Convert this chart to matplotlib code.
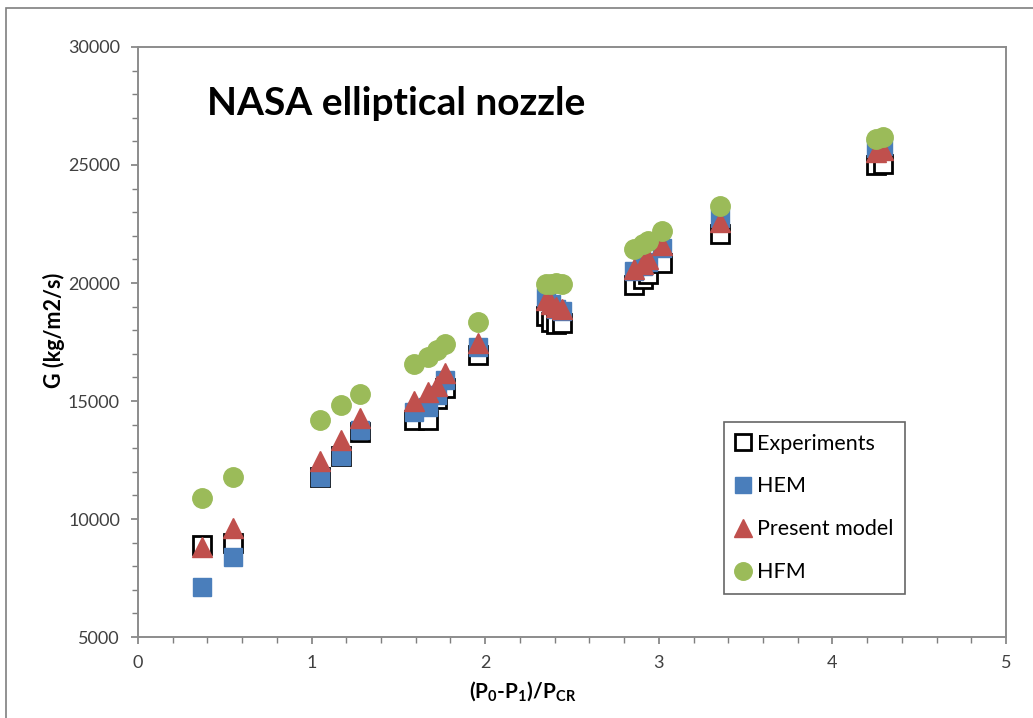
import matplotlib
matplotlib.use("Agg")
import matplotlib.pyplot as plt
from matplotlib.patches import Rectangle
from matplotlib.ticker import MultipleLocator

plt.rcParams["font.family"] = ["Lato", "DejaVu Sans"]
plt.rcParams["mathtext.fontset"] = "custom"
plt.rcParams["mathtext.rm"] = "Lato:bold"
plt.rcParams["mathtext.default"] = "rm"

# pressure ratio (P0-P1)/Pcr for each test point
ratio = [0.37, 0.55, 1.05, 1.17, 1.28,
         1.59, 1.67, 1.72, 1.77, 1.96,
         2.35, 2.38, 2.41, 2.44,
         2.86, 2.91, 2.94, 3.02,
         3.35, 4.25, 4.29]

# mass flux G (kg/m2/s)
g_exp = [8900, 8980, 11800, 12650, 13690,
         14200, 14200, 15100, 15550, 16950,
         18600, 18350, 18250, 18300,
         19900, 20150, 20400, 20850,
         22080, 25000, 25050]
g_hem = [7120, 8390, 11780, 12680, 13770,
         14550, 14750, 15250, 15900, 17290,
         19400, 19100, 18900, 18800,
         20500, 20700, 20900, 21500,
         22750, 25700, 25800]
g_present = [8800, 9600, 12450, 13350, 14280,
             15000, 15400, 15650, 16200, 17460,
             19300, 19100, 19000, 18900,
             20600, 20800, 21000, 21600,
             22600, 25550, 25650]
g_hfm = [10870, 11780, 14200, 14830, 15300,
         16550, 16850, 17150, 17400, 18330,
         19950, 19950, 20000, 19950,
         21450, 21650, 21800, 22200,
         23250, 26100, 26200]

fig = plt.figure(figsize=(10.33, 7.18), dpi=100)
fig.patches.append(Rectangle((6 / 1033, -0.1), 1.2, 1 - 8 / 718 + 0.1,
                             transform=fig.transFigure, fill=False,
                             edgecolor="#7f7f7f", linewidth=1.2))
ax = fig.add_axes([138 / 1033, 1 - 637 / 718, 868 / 1033, 590 / 718])

ax.plot(ratio, g_exp, "s", ms=13, mfc="white", mec="black", mew=2,
        label="Experiments", linestyle="none")
ax.plot(ratio, g_hem, "s", ms=13, color="#4a7ebb", mec="#4a7ebb",
        label="HEM", linestyle="none")
ax.plot(ratio, g_present, "^", ms=15, color="#c0504d", mec="#c0504d",
        label="Present model", linestyle="none")
ax.plot(ratio, g_hfm, "o", ms=14, color="#9bbb59", mec="#9bbb59",
        label="HFM", linestyle="none")

ax.set_xlim(0, 5)
ax.set_ylim(5000, 30000)
ax.xaxis.set_major_locator(MultipleLocator(1))
ax.xaxis.set_minor_locator(MultipleLocator(0.2))
ax.yaxis.set_major_locator(MultipleLocator(5000))
ax.yaxis.set_minor_locator(MultipleLocator(1000))
ax.tick_params(which="both", direction="out", color="#7f7f7f", labelsize=13,
               labelcolor="#404040")
ax.tick_params(which="major", length=5, width=1.2, pad=8)
ax.tick_params(which="minor", length=4, width=1.0)
for s in ax.spines.values():
    s.set_color("#8c8c8c")
    s.set_linewidth(1.4)

ax.set_xlabel(r"(P$_0$-P$_1$)/P$_{CR}$", fontsize=15, fontweight="bold")
ax.xaxis.set_label_coords(0.4435, -0.072)
ax.set_ylabel("G (kg/m2/s)", fontsize=15.5, fontweight="bold")
ax.yaxis.set_label_coords(-0.084, 0.52)
ax.text(0.0795, 0.905, "NASA elliptical nozzle", transform=ax.transAxes,
        fontsize=28, fontweight="bold", va="center", ha="left")

leg = ax.legend(loc="lower left", bbox_to_anchor=(0.675, 0.073), fontsize=15.5,
                frameon=True, fancybox=False, edgecolor="#404040",
                handlelength=0.7, handletextpad=0.3, labelspacing=1.06,
                borderpad=0.55, markerscale=0.9, borderaxespad=0)
leg.get_frame().set_linewidth(1.2)

fig.savefig("out.png", dpi=100)
